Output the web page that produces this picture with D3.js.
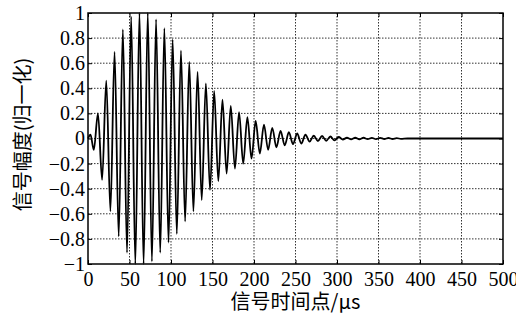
<!DOCTYPE html>
<html>
<head>
<meta charset="utf-8">
<script src="https://cdn.jsdelivr.net/npm/d3@7"></script>
<style>
  body { margin: 0; background: #fff; }
  #chart svg { display: block; }
</style>
</head>
<body>
<div id="chart"></div>
<script>
// extremum times (µs) and amplitudes
const sigTime = [0, 3, 7, 12, 17, 22, 27, 32, 37, 42, 47, 52, 57, 62, 67, 72, 77, 82, 87, 92,
  97, 102, 107, 112, 117, 122, 127, 132, 137, 142, 147, 152, 157, 162, 167, 172, 177, 182, 187, 192,
  197, 202, 207, 212, 217, 222, 227, 232, 237, 242, 247, 252, 257, 262, 267, 272, 277, 282, 287, 292,
  297, 302, 307, 312, 317, 322, 327, 332, 337, 342, 347, 352, 357, 362, 367, 372, 377, 385, 500];
const sigAmp = [0, 0.03, -0.09, 0.2, -0.33, 0.46, -0.58, 0.69, -0.78, 0.87, -0.91, 0.97, -1.0, 1.0, -1.0, 1.0, -0.98, 0.95, -0.91, 0.88,
  -0.83, 0.79, -0.76, 0.7, -0.66, 0.61, -0.58, 0.53, -0.49, 0.44, -0.41, 0.38, -0.34, 0.31, -0.28, 0.26, -0.24, 0.21, -0.2, 0.17,
  -0.16, 0.14, -0.12, 0.11, -0.09, 0.085, -0.07, 0.06, -0.055, 0.05, -0.045, 0.04, -0.04, 0.03, -0.025, 0.022, -0.02, 0.02, -0.018, 0.016,
  -0.015, 0.012, -0.008, 0.006, -0.006, 0.006, -0.006, 0.006, -0.005, 0.005, -0.005, 0.005, -0.004, 0.004, -0.004, 0.003, -0.003, 0, 0];
const xTicks = [0, 50, 100, 150, 200, 250, 300, 350, 400, 450, 500];
const yTicks = [-1, -0.8, -0.6, -0.4, -0.2, 0, 0.2, 0.4, 0.6, 0.8, 1];
const xTitle = "信号时间点/μs";
const yTitle = "信号幅度(归一化)";

const width = 516, height = 321;
const margin = { top: 13, right: 13, bottom: 57, left: 88 };
const innerWidth = width - margin.left - margin.right;
const innerHeight = height - margin.top - margin.bottom;
const serif = "'Liberation Serif', 'Times New Roman', Times, 'DejaVu Serif', serif";

const svg = d3.select('#chart')
  .append('svg')
  .attr('width', width)
  .attr('height', height);

const g = svg.append('g')
  .attr('transform', `translate(${margin.left},${margin.top})`);

const x = d3.scaleLinear().domain([0, 500]).range([0, innerWidth]);
const y = d3.scaleLinear().domain([-1, 1]).range([innerHeight, 0]);

const fmt = v => v === 0 ? "0" : (v < 0 ? "\u2212" : "") + String(Math.abs(v));

// grid
g.append('g').selectAll('line')
  .data(xTicks.slice(1, -1))
  .join('line')
  .attr('x1', d => x(d)).attr('x2', d => x(d))
  .attr('y1', 0).attr('y2', innerHeight)
  .attr('stroke', '#333').attr('stroke-width', 1)
  .attr('stroke-dasharray', '1.5,1.5');
g.append('g').selectAll('line')
  .data(yTicks.slice(1, -1))
  .join('line')
  .attr('x1', 0).attr('x2', innerWidth)
  .attr('y1', d => y(d)).attr('y2', d => y(d))
  .attr('stroke', '#333').attr('stroke-width', 1)
  .attr('stroke-dasharray', '1.5,1.5');

// signal
const data = sigTime.map((t, i) => ({ t, v: sigAmp[i] }));
const line = d3.line()
  .x(d => x(d.t))
  .y(d => y(d.v))
  .curve(d3.curveMonotoneX);

g.append('path')
  .datum(data)
  .attr('fill', 'none')
  .attr('stroke', '#000')
  .attr('stroke-width', 1.8)
  .attr('d', line);

// axes (ticks inward, box all round)
const xAxis = g.append('g')
  .attr('transform', `translate(0,${innerHeight})`)
  .call(d3.axisBottom(x).tickValues(xTicks).tickFormat(fmt).tickSize(-4).tickPadding(8));
const yAxis = g.append('g')
  .call(d3.axisLeft(y).tickValues(yTicks).tickFormat(fmt).tickSize(-4).tickPadding(3));

[xAxis, yAxis].forEach(a => {
  a.attr('font-family', serif).attr('font-size', 20);
  a.select('.domain').remove();
  a.selectAll('text').attr('fill', '#000');
});

g.append('g')
  .call(d3.axisTop(x).tickValues(xTicks).tickFormat('').tickSize(-4))
  .call(a => a.select('.domain').remove());

g.append('g')
  .attr('transform', `translate(${innerWidth},0)`)
  .call(d3.axisRight(y).tickValues(yTicks).tickFormat('').tickSize(-4))
  .call(a => a.select('.domain').remove());

g.append('rect')
  .attr('width', innerWidth).attr('height', innerHeight)
  .attr('fill', 'none').attr('stroke', '#000').attr('stroke-width', 1.5);

// titles
svg.append('text')
  .attr('x', margin.left + innerWidth / 2)
  .attr('y', 309)
  .attr('text-anchor', 'middle')
  .attr('font-family', '"Noto Sans CJK SC", sans-serif')
  .attr('font-size', 20)
  .text(xTitle);

svg.append('text')
  .attr('transform', `translate(30,${margin.top + innerHeight / 2 - 4}) rotate(-90)`)
  .attr('text-anchor', 'middle')
  .attr('font-family', '"Noto Sans CJK SC", sans-serif')
  .attr('font-size', 20)
  .text(yTitle);
</script>
</body>
</html>
